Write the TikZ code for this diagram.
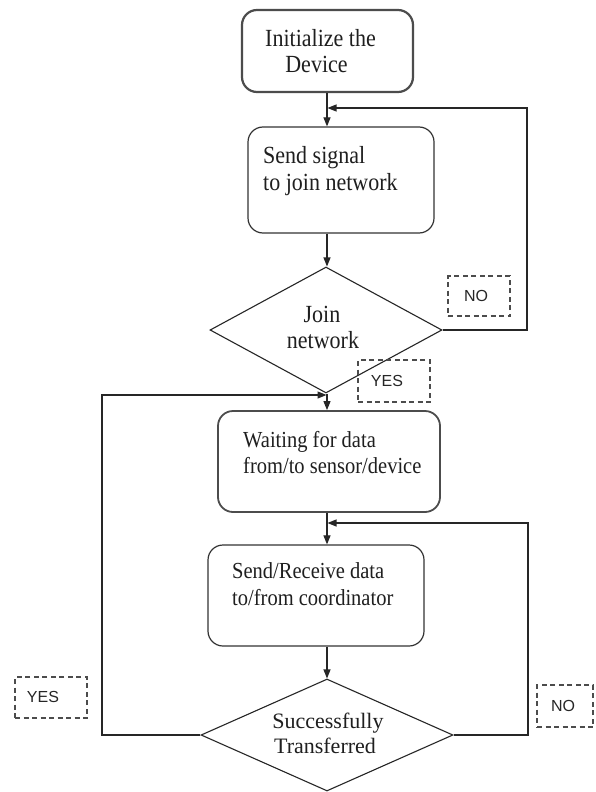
\documentclass[tikz,border=0pt]{standalone}
\usepackage{fontspec}
\usepackage{graphicx}
\setmainfont{Liberation Serif}
\newfontfamily\lsans{Liberation Sans}
\usetikzlibrary{arrows.meta,shapes.geometric}
\newcommand{\tallt}[1]{\scalebox{1}[1.12]{#1}}
\begin{document}
\begin{tikzpicture}[x=1pt,y=-1pt,
  box/.style={draw=black!80, line width=1.2pt, rounded corners=15pt, inner sep=0pt},
  thickbox/.style={box, draw=black!70, line width=2.2pt},
  dia/.style={diamond, draw=black!85, line width=1.1pt, inner sep=0pt},
  txt/.style={font=\fontsize{22}{27}\selectfont, inner sep=0pt, text=black!88},
  stxt/.style={font=\fontsize{20.5}{26}\selectfont, inner sep=0pt, text=black!88},
  lblbox/.style={draw=black!70, line width=1.1pt, dash pattern=on 5pt off 3.5pt, inner sep=0pt},
  lbltxt/.style={font=\lsans\fontsize{16}{18}\selectfont, inner sep=0pt, text=black!85},
  flow/.style={draw=black!85, line width=1.1pt, -{Triangle[length=9pt,width=7pt]}}
]
\useasboundingbox[fill=white] (0,0) rectangle (596,792);

% boxes
\node[thickbox, minimum width=171pt, minimum height=82pt] (b1) at (327.5,51) {};
\node[box, minimum width=186pt, minimum height=106pt] (b2) at (341,180) {};
\node[dia, minimum width=232pt, minimum height=126pt] (d1) at (326,330) {};
\node[thickbox, line width=1.8pt, minimum width=222pt, minimum height=101pt] (b3) at (329,461.5) {};
\node[box, minimum width=216pt, minimum height=101pt] (b4) at (316,595.5) {};
\node[dia, minimum width=252pt, minimum height=112pt] (d2) at (327,735) {};

% texts
\node[txt, anchor=base] (t1a) at (320.5,47) {\tallt{Initialize the}};
\node[txt, anchor=base] (t1b) at (316.5,72) {\tallt{Device}};
\node[txt, anchor=base west] (t2a) at (263,163) {\tallt{Send signal}};
\node[txt, anchor=base west] (t2b) at (263,190) {\tallt{to join network}};
\node[txt, anchor=base] (t3a) at (322,322) {\tallt{Join}};
\node[txt, anchor=base] (t3b) at (323,348) {\tallt{network}};
\node[stxt, anchor=base west] (t4a) at (243,447) {\tallt{Waiting for data}};
\node[stxt, anchor=base west] (t4b) at (243,473) {\tallt{from/to sensor/device}};
\node[stxt, anchor=base west] (t5a) at (232,578) {\tallt{Send/Receive data}};
\node[stxt, anchor=base west] (t5b) at (232,605) {\tallt{to/from coordinator}};
\node[txt, anchor=base] (t6a) at (328,728) {Successfully};
\node[txt, anchor=base] (t6b) at (325,753) {Transferred};

% dashed labels
\node[lblbox, minimum width=62pt, minimum height=40pt] (no1) at (479,296) {};
\node[lbltxt] (no1t) at (476,296) {NO};
\node[lblbox, minimum width=72pt, minimum height=42pt] (yes1) at (394,381) {};
\node[lbltxt] (yes1t) at (387,381) {YES};
\node[lblbox, minimum width=72pt, minimum height=41pt] (yes2) at (51,697.5) {};
\node[lbltxt] (yes2t) at (43,697) {YES};
\node[lblbox, minimum width=56pt, minimum height=42pt] (no2) at (565,706) {};
\node[lbltxt] (no2t) at (563,706) {NO};

% helper coordinates
\coordinate (sp) at (327,0);
\coordinate (j1) at (327.5,108);
\coordinate (n1) at (527,108);
\coordinate (j2) at (326.5,395);
\coordinate (y1) at (102,395);
\coordinate (j3) at (327.5,523);
\coordinate (n2) at (528,523);

% main flow
\draw[flow] (b1.south -| sp) -- (b2.north -| sp);
\draw[flow] (b2.south -| sp) -- (d1.north -| sp);
\draw[flow] (d1.south -| sp) -- (b3.north -| sp);
\draw[flow] (b3.south -| sp) -- (b4.north -| sp);
\draw[flow] (b4.south -| sp) -- (d2.north);

% loops
\draw[flow] (d1.east) -| (n1) -- (j1);
\draw[flow] (d2.west) -| (y1) -- (j2);
\draw[flow] (d2.east) -| (n2) -- (j3);
\end{tikzpicture}
\end{document}
